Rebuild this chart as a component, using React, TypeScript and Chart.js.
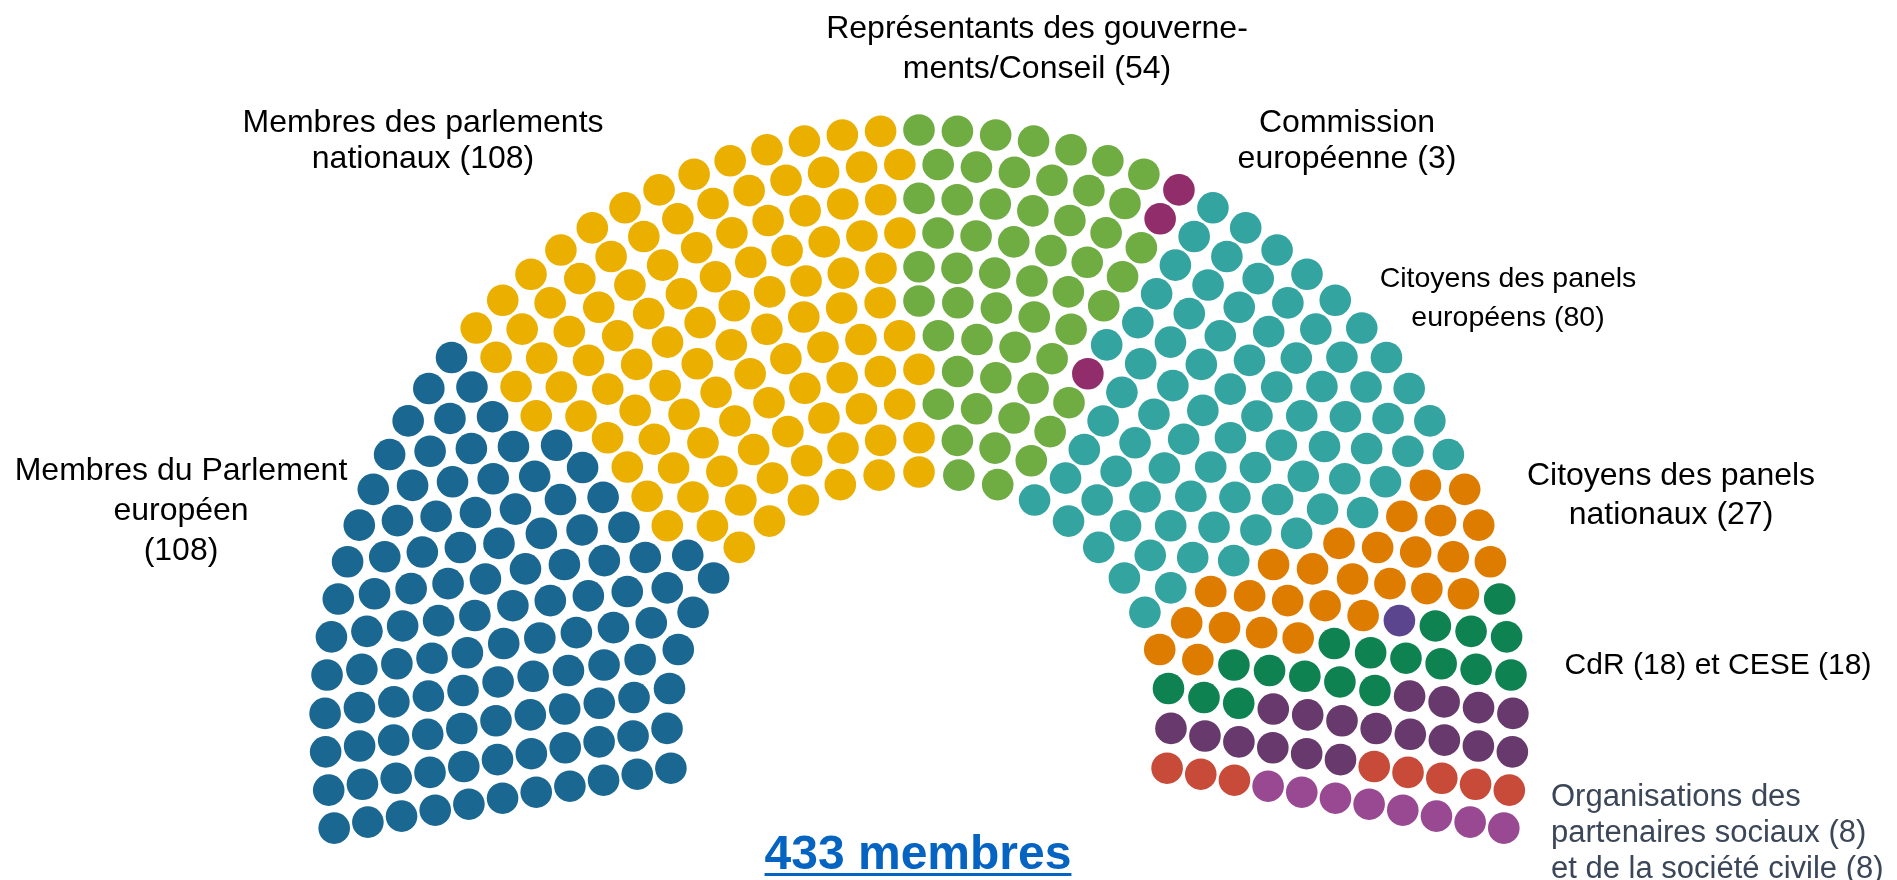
import React, { useEffect, useRef } from "react";
import { Chart, registerables } from "chart.js";

Chart.register(...registerables);

// ---- data ----
const groupNames = [
  "Membres du Parlement européen",
  "Membres des parlements nationaux",
  "Représentants des gouvernements/Conseil",
  "Commission européenne",
  "Citoyens des panels européens",
  "Citoyens des panels nationaux",
  "Forum européen de la jeunesse",
  "CdR",
  "CESE",
  "Organisations des partenaires sociaux",
  "Organisations de la société civile",
];
const groupSeats = [108, 108, 54, 3, 80, 27, 1, 18, 18, 8, 8];
const groupColors = [
  "#1A6791",
  "#EBAF00",
  "#6FAC42",
  "#912D6B",
  "#34A4A0",
  "#DE7C00",
  "#5C458F",
  "#0E8250",
  "#68396C",
  "#C84A38",
  "#984992",
];
const totalLabel = "433 membres";

// ---- hemicycle geometry (layout constants) ----
const ROWS = 11;
const INNER_R = 252;
const OUTER_R = 594;
const OVERHANG_DEG = 10.1; // arc extends below horizontal on each side

function buildSeats() {
  const total = groupSeats.reduce((a, b) => a + b, 0);
  const radii: number[] = [];
  for (let i = 0; i < ROWS; i++) radii.push(INNER_R + ((OUTER_R - INNER_R) * i) / (ROWS - 1));
  const sumR = radii.reduce((a, b) => a + b, 0);
  const raw = radii.map((r) => (total * r) / sumR);
  const counts = raw.map((v) => Math.floor(v));
  const left = total - counts.reduce((a, b) => a + b, 0);
  const order = raw.map((v, i) => ({ i, rem: v - Math.floor(v) })).sort((a, b) => b.rem - a.rem);
  for (let k = 0; k < left; k++) counts[order[k].i]++;

  const start = 180 + OVERHANG_DEG;
  const span = 180 + 2 * OVERHANG_DEG;
  const seats: { row: number; ang: number; r: number }[] = [];
  counts.forEach((n, row) => {
    for (let j = 0; j < n; j++) {
      seats.push({ row, ang: start - (j * span) / (n - 1), r: radii[row] });
    }
  });
  seats.sort((a, b) => {
    const d = b.ang - a.ang;
    if (Math.abs(d) > 1e-7) return d;
    return a.row - b.row;
  });
  const byGroup: { x: number; y: number }[][] = groupSeats.map(() => []);
  let g = 0;
  let used = 0;
  seats.forEach((s) => {
    while (g < groupSeats.length && used >= groupSeats[g]) {
      g++;
      used = 0;
    }
    const t = (s.ang * Math.PI) / 180;
    byGroup[g].push({ x: s.r * Math.cos(t), y: s.r * Math.sin(t) });
    used++;
  });
  return byGroup;
}

type Lbl = {
  lines: string[];
  x: number;
  y: number;
  align: "center" | "left";
  size: number;
  lh: number;
  color?: string;
};
const labels: Lbl[] = [
  { lines: ["Représentants des gouverne-", "ments/Conseil (54)"], x: 1037, y: 27, align: "center", size: 32, lh: 40 },
  { lines: ["Membres des parlements", "nationaux (108)"], x: 423, y: 121, align: "center", size: 32, lh: 36 },
  { lines: ["Commission", "européenne (3)"], x: 1347, y: 121, align: "center", size: 32, lh: 36 },
  { lines: ["Citoyens des panels", "européens (80)"], x: 1508, y: 277, align: "center", size: 28.5, lh: 39 },
  { lines: ["Citoyens des panels", "nationaux (27)"], x: 1671, y: 474, align: "center", size: 32, lh: 39 },
  { lines: ["Membres du Parlement", "européen", "(108)"], x: 181, y: 469, align: "center", size: 32, lh: 40 },
  { lines: ["CdR (18) et CESE (18)"], x: 1718, y: 664, align: "center", size: 30, lh: 40 },
  {
    lines: ["Organisations des", "partenaires sociaux (8)", "et de la société civile (8)"],
    x: 1551,
    y: 796,
    align: "left",
    size: 31,
    lh: 36,
    color: "#3B4658",
  },
];

const FONT = '"Liberation Sans", Arial, sans-serif';

export default function App() {
  const ref = useRef<HTMLCanvasElement | null>(null);

  useEffect(() => {
    document.body.style.margin = "0";
    const canvas = ref.current;
    if (!canvas) return;
    const byGroup = buildSeats();
    const chart = new Chart(canvas, {
      type: "scatter",
      data: {
        datasets: groupNames.map((name, i) => ({
          label: name,
          data: byGroup[i],
          backgroundColor: groupColors[i],
          borderWidth: 0,
          pointRadius: 15.8,
          pointHoverRadius: 15.8,
          clip: false as any,
        })),
      },
      options: {
        animation: false,
        responsive: false,
        maintainAspectRatio: false,
        events: [],
        layout: { padding: 0, autoPadding: false },
        plugins: { legend: { display: false }, tooltip: { enabled: false } },
        scales: {
          x: { type: "linear", min: -919, max: 978, display: false },
          y: { type: "linear", min: -156, max: 724, display: false },
        },
      },
    });
    return () => chart.destroy();
  }, []);

  return (
    <div style={{ position: "relative", width: 1897, height: 880, overflow: "hidden", background: "#fff" }}>
      <canvas ref={ref} width={1897} height={880} style={{ position: "absolute", left: 0, top: 0 }} />
      {labels.map((l, i) => (
        <div
          key={i}
          style={{
            position: "absolute",
            left: l.x,
            top: l.y - l.lh / 2,
            transform: l.align === "center" ? "translateX(-50%)" : undefined,
            textAlign: l.align,
            whiteSpace: "pre",
            fontFamily: FONT,
            fontSize: l.size,
            lineHeight: l.lh + "px",
            color: l.color || "#000",
          }}
        >
          {l.lines.join("\n")}
        </div>
      ))}
      <div
        style={{
          position: "absolute",
          left: 918,
          top: 825,
          transform: "translateX(-50%)",
          fontFamily: FONT,
          fontWeight: "bold",
          fontSize: 48,
          lineHeight: "56px",
          color: "#0563C1",
          textDecoration: "underline",
          textDecorationThickness: "3px",
          textUnderlineOffset: "4px",
          whiteSpace: "pre",
        }}
      >
        {totalLabel}
      </div>
    </div>
  );
}
